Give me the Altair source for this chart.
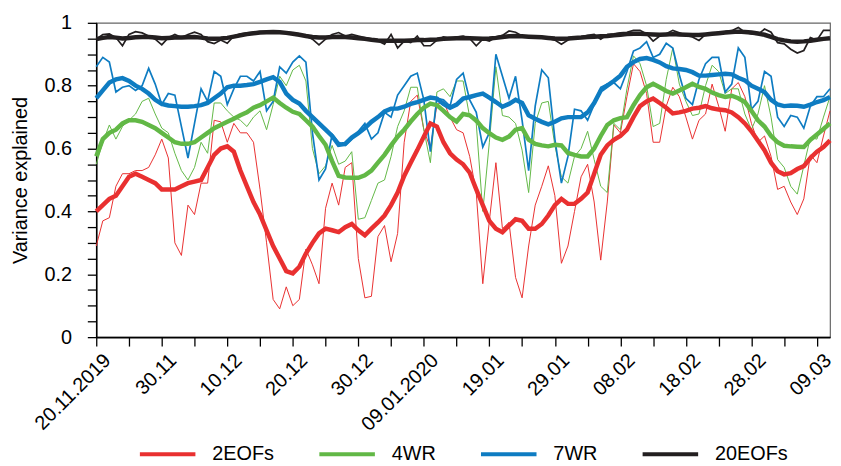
import json
import altair as alt
import pandas as pd

days = list(range(113))
series_names = ["2EOFs", "4WR", "7WR", "20EOFs"]
series_colors = ["#e93030", "#62b846", "#0e7cc2", "#231f20"]
x_tick_labels = ["20.11.2019", "30.11", "10.12", "20.12", "30.12", "09.01.2020",
                 "19.01", "29.01", "08.02", "18.02", "28.02", "09.03"]
y_tick_labels = ["0", "0.2", "0.4", "0.6", "0.8", "1"]

daily_2eofs = [
    0.29, 0.37, 0.38, 0.48, 0.52, 0.52, 0.53, 0.53, 0.54, 0.58,
    0.63, 0.57, 0.30, 0.26, 0.42, 0.39, 0.49, 0.49, 0.69, 0.685,
    0.62, 0.68, 0.65, 0.65, 0.62, 0.47, 0.30, 0.12, 0.09, 0.16,
    0.10, 0.12, 0.28, 0.23, 0.17, 0.41, 0.49, 0.42, 0.54, 0.555,
    0.25, 0.125, 0.13, 0.32, 0.355, 0.24, 0.33, 0.62, 0.75, 0.77,
    0.66, 0.60, 0.74, 0.75, 0.70, 0.66, 0.65, 0.575, 0.46, 0.17,
    0.37, 0.555, 0.345, 0.365, 0.19, 0.125, 0.29, 0.42, 0.48, 0.545,
    0.45, 0.235, 0.29, 0.40, 0.51, 0.55, 0.43, 0.245, 0.43, 0.675,
    0.65, 0.765, 0.87, 0.845, 0.775, 0.62, 0.62, 0.735, 0.795, 0.765,
    0.70, 0.63, 0.69, 0.71, 0.805, 0.735, 0.655, 0.79, 0.81, 0.765,
    0.68, 0.62, 0.64, 0.575, 0.47, 0.48, 0.43, 0.39, 0.44, 0.58,
    0.555, 0.64, 0.72]
smooth_2eofs = [
    0.40, 0.42, 0.44, 0.45, 0.48, 0.51, 0.52, 0.51, 0.50, 0.49,
    0.47, 0.47, 0.47, 0.48, 0.49, 0.495, 0.50, 0.54, 0.58, 0.60,
    0.607, 0.59, 0.53, 0.48, 0.43, 0.39, 0.34, 0.29, 0.25, 0.21,
    0.203, 0.224, 0.266, 0.30, 0.33, 0.345, 0.34, 0.334, 0.35, 0.36,
    0.34, 0.324, 0.345, 0.365, 0.387, 0.42, 0.46, 0.513, 0.555, 0.595,
    0.638, 0.68, 0.67, 0.62, 0.585, 0.565, 0.55, 0.523, 0.47, 0.42,
    0.37, 0.345, 0.334, 0.355, 0.375, 0.37, 0.345, 0.345, 0.36, 0.387,
    0.42, 0.44, 0.424, 0.424, 0.44, 0.46, 0.52, 0.58, 0.61, 0.628,
    0.64, 0.66, 0.70, 0.735, 0.75, 0.759, 0.745, 0.73, 0.712, 0.715,
    0.72, 0.727, 0.73, 0.735, 0.728, 0.724, 0.722, 0.715, 0.70, 0.68,
    0.655, 0.625, 0.595, 0.555, 0.528, 0.518, 0.522, 0.535, 0.544, 0.57,
    0.59, 0.605, 0.626]
daily_4wr = [
    0.55, 0.62, 0.675, 0.63, 0.67, 0.69, 0.71, 0.75, 0.76, 0.71,
    0.665, 0.65, 0.585, 0.53, 0.50, 0.54, 0.62, 0.585, 0.745, 0.745,
    0.72, 0.70, 0.69, 0.67, 0.70, 0.72, 0.66, 0.74, 0.83, 0.80,
    0.85, 0.865, 0.815, 0.60, 0.52, 0.545, 0.61, 0.55, 0.56, 0.59,
    0.375, 0.38, 0.435, 0.49, 0.50, 0.575, 0.67, 0.72, 0.795, 0.795,
    0.66, 0.555, 0.78, 0.79, 0.765, 0.815, 0.815, 0.70, 0.68, 0.40,
    0.62, 0.86, 0.705, 0.70, 0.68, 0.595, 0.46, 0.68, 0.745, 0.75,
    0.61, 0.51, 0.49, 0.575, 0.60, 0.655, 0.565, 0.48, 0.46, 0.68,
    0.66, 0.79, 0.895, 0.87, 0.80, 0.67, 0.68, 0.82, 0.92, 0.805,
    0.75, 0.705, 0.71, 0.80, 0.865, 0.845, 0.775, 0.79, 0.79, 0.71,
    0.66, 0.71, 0.80, 0.70, 0.565, 0.54, 0.48, 0.455, 0.545, 0.635,
    0.63, 0.70, 0.765]
smooth_4wr = [
    0.575, 0.63, 0.65, 0.66, 0.68, 0.69, 0.69, 0.685, 0.675, 0.665,
    0.65, 0.635, 0.62, 0.615, 0.615, 0.62, 0.635, 0.65, 0.665, 0.675,
    0.685, 0.695, 0.706, 0.715, 0.73, 0.738, 0.75, 0.762, 0.745, 0.73,
    0.717, 0.71, 0.69, 0.67, 0.64, 0.612, 0.56, 0.513, 0.508, 0.507,
    0.507, 0.515, 0.53, 0.555, 0.58, 0.61, 0.638, 0.66, 0.686, 0.71,
    0.73, 0.743, 0.738, 0.72, 0.70, 0.686, 0.71, 0.706, 0.69, 0.665,
    0.649, 0.635, 0.628, 0.638, 0.66, 0.665, 0.628, 0.615, 0.61, 0.607,
    0.612, 0.61, 0.586, 0.58, 0.575, 0.575, 0.60, 0.64, 0.675, 0.69,
    0.697, 0.70, 0.738, 0.77, 0.795, 0.806, 0.795, 0.783, 0.775, 0.785,
    0.795, 0.806, 0.796, 0.79, 0.778, 0.77, 0.764, 0.768, 0.76, 0.748,
    0.72, 0.69, 0.67, 0.64, 0.62, 0.609, 0.607, 0.606, 0.605, 0.628,
    0.645, 0.662, 0.68]
daily_7wr = [
    0.86, 0.89, 0.875, 0.78, 0.795, 0.80, 0.785, 0.80, 0.855, 0.805,
    0.74, 0.775, 0.77, 0.67, 0.57, 0.68, 0.79, 0.75, 0.845, 0.83,
    0.74, 0.79, 0.83, 0.83, 0.815, 0.845, 0.72, 0.75, 0.86, 0.84,
    0.875, 0.895, 0.875, 0.65, 0.50, 0.535, 0.645, 0.62, 0.61, 0.63,
    0.655, 0.68, 0.63, 0.65, 0.715, 0.70, 0.77, 0.80, 0.83, 0.84,
    0.755, 0.59, 0.76, 0.755, 0.735, 0.82, 0.84, 0.755, 0.715, 0.605,
    0.65, 0.90, 0.83, 0.76, 0.83, 0.69, 0.53, 0.735, 0.85, 0.825,
    0.63, 0.49, 0.575, 0.725, 0.72, 0.69, 0.74, 0.795, 0.805, 0.81,
    0.79, 0.845, 0.91, 0.92, 0.94, 0.89, 0.90, 0.935, 0.92, 0.835,
    0.76, 0.74, 0.82, 0.87, 0.89, 0.89, 0.78, 0.805, 0.92, 0.89,
    0.725, 0.75, 0.845, 0.83, 0.70, 0.67, 0.705, 0.70, 0.665, 0.735,
    0.765, 0.765, 0.79]
smooth_7wr = [
    0.76, 0.785, 0.81, 0.82, 0.824, 0.815, 0.80, 0.79, 0.775, 0.755,
    0.742, 0.737, 0.735, 0.733, 0.733, 0.735, 0.738, 0.745, 0.76, 0.775,
    0.795, 0.80, 0.80, 0.802, 0.805, 0.812, 0.82, 0.827, 0.812, 0.775,
    0.755, 0.743, 0.72, 0.70, 0.68, 0.66, 0.64, 0.612, 0.615, 0.635,
    0.649, 0.665, 0.685, 0.70, 0.718, 0.727, 0.727, 0.733, 0.742, 0.748,
    0.755, 0.762, 0.759, 0.742, 0.73, 0.74, 0.759, 0.764, 0.77, 0.775,
    0.762, 0.748, 0.733, 0.742, 0.755, 0.745, 0.706, 0.695, 0.685, 0.677,
    0.685, 0.696, 0.70, 0.70, 0.70, 0.715, 0.745, 0.785, 0.80, 0.815,
    0.832, 0.86, 0.875, 0.885, 0.888, 0.882, 0.874, 0.862, 0.855, 0.853,
    0.85, 0.843, 0.832, 0.832, 0.834, 0.836, 0.838, 0.836, 0.825, 0.817,
    0.80, 0.79, 0.78, 0.755, 0.74, 0.735, 0.737, 0.736, 0.733, 0.74,
    0.748, 0.754, 0.764]
daily_20eofs = [
    0.948, 0.963, 0.965, 0.953, 0.927, 0.963, 0.972, 0.968, 0.958, 0.948,
    0.93, 0.953, 0.963, 0.953, 0.963, 0.97, 0.963, 0.94, 0.934, 0.945,
    0.935, 0.958, 0.965, 0.968, 0.97, 0.972, 0.972, 0.973, 0.972, 0.97,
    0.968, 0.965, 0.958, 0.948, 0.93, 0.948, 0.963, 0.969, 0.958, 0.963,
    0.958, 0.953, 0.948, 0.942, 0.932, 0.963, 0.92, 0.942, 0.937, 0.958,
    0.927, 0.927, 0.945, 0.955, 0.95, 0.955, 0.958, 0.95, 0.927, 0.948,
    0.942, 0.955, 0.96, 0.974, 0.97, 0.958, 0.955, 0.958, 0.955, 0.95,
    0.945, 0.932, 0.945, 0.955, 0.955, 0.96, 0.963, 0.948, 0.963, 0.965,
    0.968, 0.97, 0.976, 0.976, 0.965, 0.942, 0.958, 0.965, 0.976, 0.968,
    0.96, 0.955, 0.944, 0.963, 0.966, 0.97, 0.972, 0.975, 0.985, 0.97,
    0.965, 0.963, 0.98, 0.97, 0.937, 0.933, 0.916, 0.904, 0.912, 0.953,
    0.945, 0.976, 0.976]
smooth_20eofs = [
    0.948, 0.952, 0.955, 0.953, 0.95, 0.952, 0.954, 0.955, 0.955, 0.953,
    0.951, 0.952, 0.953, 0.953, 0.954, 0.955, 0.953, 0.95, 0.949, 0.95,
    0.952, 0.956, 0.96, 0.964, 0.967, 0.969, 0.97, 0.971, 0.97, 0.968,
    0.965, 0.962, 0.958, 0.955, 0.953, 0.953, 0.955, 0.956, 0.955, 0.953,
    0.951, 0.949, 0.946, 0.944, 0.943, 0.943, 0.943, 0.943, 0.944, 0.945,
    0.945, 0.946, 0.947, 0.949, 0.95, 0.951, 0.952, 0.951, 0.95, 0.949,
    0.95, 0.952, 0.955, 0.957, 0.958, 0.957, 0.956, 0.955, 0.954, 0.952,
    0.95, 0.949, 0.95, 0.952, 0.953, 0.955, 0.956, 0.957, 0.958, 0.96,
    0.962, 0.964, 0.965, 0.965, 0.964, 0.963, 0.962, 0.963, 0.964, 0.963,
    0.962, 0.961, 0.961, 0.963, 0.965, 0.967, 0.969, 0.971, 0.972, 0.971,
    0.969, 0.966, 0.962, 0.955, 0.948, 0.944, 0.941, 0.94, 0.941, 0.943,
    0.946, 0.949, 0.951]

daily_all = [daily_2eofs, daily_4wr, daily_7wr, daily_20eofs]
smooth_all = [smooth_2eofs, smooth_4wr, smooth_7wr, smooth_20eofs]

rows = []
for name, dvals, svals in zip(series_names, daily_all, smooth_all):
    for d, v in zip(days, dvals):
        rows.append({"day": d, "value": v, "series": name, "kind": "daily"})
    for d, v in zip(days, svals):
        rows.append({"day": d, "value": v, "series": name, "kind": "smooth"})
df = pd.DataFrame(rows)

x_label_expr = ("datum.value % 10 == 0 ? " + json.dumps(x_tick_labels)
                + "[round(datum.value / 10)] : ''")
y_label_expr = ("round(datum.value * 100) % 20 == 0 ? " + json.dumps(y_tick_labels)
                + "[round(datum.value * 5)] : ''")

x_enc = alt.X(
    "day:Q",
    scale=alt.Scale(domain=[0, 112], nice=False, zero=False),
    axis=alt.Axis(
        values=list(range(0, 111, 5)), labelExpr=x_label_expr, title=None,
        labelAngle=-45, labelAlign="right", labelBaseline="top",
        labelOffset=4, labelPadding=4, tickSize=9, labelFontSize=20,
        labelFlush=False, labelOverlap=False, labelBound=False, grid=False,
    ),
)
y_enc = alt.Y(
    "value:Q",
    scale=alt.Scale(domain=[0, 1], nice=False),
    axis=alt.Axis(
        values=[round(i * 0.05, 2) for i in range(21)], labelExpr=y_label_expr,
        title="Variance explained", titleFontSize=20, titleFontWeight="normal",
        titleX=-70, titleBaseline="alphabetic",
        tickSize=9, labelPadding=16, labelFontSize=20,
        labelFlush=False, labelOverlap=False, grid=False,
    ),
)
color_scale = alt.Scale(domain=series_names, range=series_colors)
legend = alt.Legend(
    title=None, orient="none", legendX=42, legendY=405, direction="horizontal",
    symbolType="stroke", symbolSize=3136, symbolStrokeWidth=4,
    labelFontSize=20, labelOffset=15, columnPadding=37, padding=0,
)

base = alt.Chart(df)

thin_a = base.transform_filter(
    (alt.datum.kind == "daily") & ((alt.datum.series == "2EOFs") | (alt.datum.series == "4WR"))
).mark_line(strokeWidth=1.0).encode(
    x=x_enc, y=y_enc,
    color=alt.Color("series:N", scale=color_scale, sort=series_names, legend=legend),
)
thin_b = base.transform_filter(
    (alt.datum.kind == "daily") & ((alt.datum.series == "7WR") | (alt.datum.series == "20EOFs"))
).mark_line(strokeWidth=1.7).encode(
    x=x_enc, y=y_enc,
    color=alt.Color("series:N", scale=color_scale, sort=series_names, legend=legend),
)
thick = base.transform_filter(alt.datum.kind == "smooth").mark_line(strokeWidth=4.5).encode(
    x=x_enc, y=y_enc,
    color=alt.Color("series:N", scale=color_scale, sort=series_names, legend=legend),
)

chart = alt.layer(thin_a, thin_b, thick).properties(
    width=740, height=317,
    autosize=alt.AutoSizeParams(type="none"),
    padding={"left": 89, "top": 13, "right": 3, "bottom": 128},
).configure(
    font="Liberation Sans",
).configure_view(
    stroke="#666666", strokeWidth=1.2,
).configure_axis(
    domainColor="black", domainWidth=1.6, tickColor="black", tickWidth=1.3,
    labelColor="black", titleColor="black",
).configure_legend(
    symbolStrokeWidth=4,
)

chart.save("out.html", embed_options={"renderer": "svg", "actions": False})
